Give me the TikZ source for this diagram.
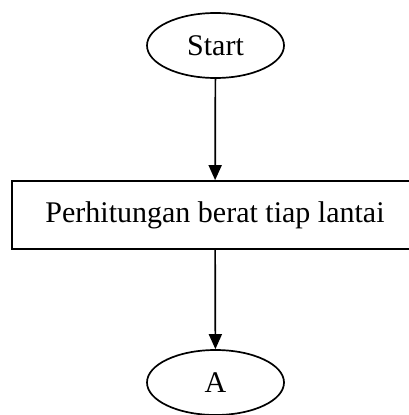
\documentclass[tikz,border=0pt]{standalone}
\usepackage{fontspec}
\setmainfont{Liberation Serif}
\usetikzlibrary{shapes.geometric,arrows.meta}

\tikzset{
  terminal/.style={draw, ellipse, line width=1.7pt, minimum width=137pt, minimum height=65pt, inner sep=0pt},
  process/.style={draw, rectangle, line width=1.7pt, minimum width=406pt, minimum height=68pt, inner sep=0pt},
  flow/.style={line width=1.7pt, -{Triangle[length=15pt,width=13pt]}}
}

\begin{document}
\begin{tikzpicture}[x=1pt, y=-1pt, font=\fontsize{30}{35}\selectfont]
			\useasboundingbox (0,0) rectangle (409,415);
			\node[terminal] (start) at (215.5,45.5) {Start};
			\node[process] (hitung) at (215,215) {Perhitungan berat tiap lantai};
			\node[terminal] (a) at (215.5,382.5) {A};
			\draw[flow] (start) -- (hitung);
			\draw[flow] (hitung) -- (a);
		\end{tikzpicture}
\end{document}
